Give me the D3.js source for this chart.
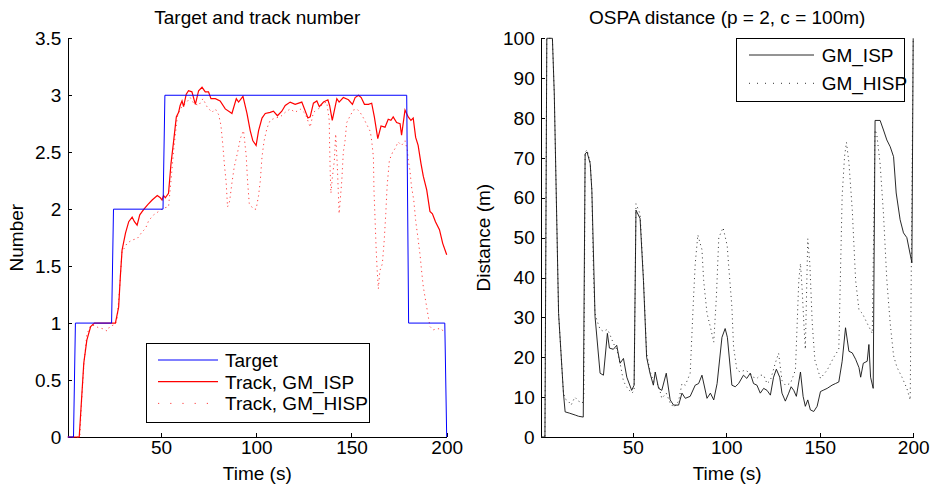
<!DOCTYPE html>
<html>
<head>
<meta charset="utf-8">
<script src="https://cdn.jsdelivr.net/npm/d3@7"></script>
<style>
    body { margin: 0; background: #fff; }
    text { font-family: "Liberation Sans", Arial, Helvetica, sans-serif; }
</style>
</head>
<body>
<div id="chart"></div>
<script>
// tick labels
var timeTicks = [50, 100, 150, 200];
var numberTicks = [0, 0.5, 1, 1.5, 2, 2.5, 3, 3.5];
var distanceTicks = [0, 10, 20, 30, 40, 50, 60, 70, 80, 90, 100];

// left panel: true number of targets
var targetTime = [1, 4, 5, 24, 25, 51, 52, 179, 180, 199, 200];
var targetNumber = [0, 0, 1, 1, 2, 2, 3, 3, 1, 1, 0];

// left panel: estimated track number, GM_ISP
var ispTrackTime = [1, 7, 8, 9.4, 11, 13, 15, 26, 27.7, 28.6, 29.5, 31.3, 33, 34.8, 36, 37.4, 38.8, 41, 43, 45.3, 48, 49.6, 50.5, 51.3, 52.2, 53.9, 55.2, 56.6, 58, 59.2, 60, 61, 61.8, 63.2, 64.4, 66.2, 68, 69.7, 71.5, 73.2, 74.9, 76.2, 78.5, 81, 83.7, 86.3, 87.2, 89.5, 90.7, 93, 95.1, 96.8, 98.2, 99.9, 101.2, 103, 104.7, 107.3, 109, 111.1, 113.4, 115.2, 117.8, 120.4, 123.9, 127.1, 128.3, 130, 131.8, 133.1, 135.3, 137.6, 138.5, 139.9, 142.3, 143.5, 145.7, 148.4, 150.5, 151.9, 153.7, 155.1, 156.8, 158.9, 160.6, 162, 163.8, 165.5, 167.6, 169.3, 170.7, 171.9, 173.7, 175.5, 176.3, 178.1, 179.8, 181.2, 182.4, 183.7, 185, 186.5, 187.7, 189.5, 191.2, 192.5, 194.1, 196.2, 197.9, 200];
var ispTrackNumber = [0, 0, 0.27, 0.65, 0.85, 0.97, 1.0, 1.0, 1.14, 1.41, 1.64, 1.79, 1.89, 1.93, 1.89, 1.86, 1.95, 2.0, 2.04, 2.08, 2.12, 2.1, 2.08, 2.12, 2.1, 2.14, 2.4, 2.6, 2.81, 2.85, 2.91, 2.95, 2.9, 3.01, 3.04, 3.03, 2.92, 3.04, 3.07, 3.03, 3.03, 2.97, 2.97, 2.95, 2.88, 2.85, 2.84, 2.97, 2.94, 2.99, 2.84, 2.69, 2.6, 2.56, 2.69, 2.8, 2.84, 2.85, 2.86, 2.82, 2.86, 2.91, 2.94, 2.92, 2.94, 2.8, 2.81, 2.93, 2.95, 2.9, 2.94, 2.96, 2.91, 2.78, 2.97, 2.94, 2.98, 2.96, 2.92, 2.98, 3.0, 2.98, 2.92, 2.92, 2.93, 2.81, 2.62, 2.73, 2.72, 2.79, 2.78, 2.81, 2.76, 2.75, 2.65, 2.87, 2.81, 2.78, 2.8, 2.63, 2.56, 2.4, 2.29, 2.17, 1.98, 1.96, 1.89, 1.82, 1.7, 1.6];

// left panel: estimated track number, GM_HISP
var hispTrackTime = [1, 7.3, 8.2, 9.5, 11, 13, 15, 17, 19.5, 21.7, 23, 26, 27, 28.2, 29.5, 30.4, 32.1, 34.8, 37.4, 40, 41.8, 43.5, 46.1, 48.7, 51.3, 53.9, 55.2, 56.6, 58.5, 60, 61.8, 63.5, 65.3, 67.1, 69.7, 72, 74.1, 76.7, 78.5, 80.2, 81.4, 82.5, 83.2, 84.2, 84.9, 86, 87.2, 88.4, 90.2, 91.6, 93.3, 94.7, 95.4, 96.3, 98.5, 99.9, 101.2, 102.1, 103, 104.1, 105.6, 107.3, 109.8, 112.6, 115.2, 117.8, 120.4, 123, 125.7, 128.3, 130, 132.6, 135.3, 137, 138.3, 138.5, 138.8, 139.2, 139.9, 141, 141.7, 142.5, 143.5, 144.9, 145.7, 146.6, 147.5, 149.3, 151, 152.8, 154.5, 156.3, 158.1, 159.9, 160.6, 161.5, 161.8, 162.4, 162.9, 163.4, 164.1, 164.9, 166.2, 167.2, 168, 168.7, 169.9, 171.6, 172.8, 174.5, 176.3, 178.1, 179.3, 179.8, 180.7, 181.5, 182.7, 183.7, 184.8, 186, 186.8, 187.7, 188.6, 189.5, 190.3, 191.2, 192.9, 194.7, 197.3, 198.4];
var hispTrackNumber = [0, 0, 0.3, 0.65, 0.9, 0.98, 0.98, 0.96, 0.95, 0.93, 0.97, 0.99, 1.05, 1.3, 1.64, 1.65, 1.7, 1.73, 1.74, 1.8, 1.83, 1.9, 1.95, 1.98, 2.01, 2.02, 2.25, 2.52, 2.81, 2.88, 2.91, 2.94, 2.98, 2.93, 2.91, 2.97, 2.9, 2.85, 2.88, 2.83, 2.74, 2.55, 2.4, 2.23, 2.02, 2.07, 2.23, 2.37, 2.5, 2.62, 2.69, 2.47, 2.25, 2.05, 2.0, 2.0, 2.12, 2.25, 2.46, 2.6, 2.71, 2.78, 2.8, 2.81, 2.85, 2.88, 2.85, 2.88, 2.84, 2.72, 2.85, 2.88, 2.93, 2.94, 2.78, 2.56, 2.34, 2.14, 2.27, 2.43, 2.66, 2.4, 1.96, 2.25, 2.5, 2.6, 2.76, 2.82, 2.87, 2.88, 2.85, 2.8, 2.74, 2.68, 2.6, 2.46, 2.17, 1.9, 1.67, 1.49, 1.3, 1.46, 1.52, 1.73, 1.96, 2.2, 2.43, 2.5, 2.53, 2.59, 2.56, 2.6, 2.52, 2.43, 2.34, 2.2, 2.08, 1.9, 1.76, 1.6, 1.46, 1.32, 1.23, 1.14, 1.06, 0.97, 0.94, 0.95, 0.95, 0.92];

// right panel: OSPA distance, GM_ISP
var ispOspaTime = [1, 3, 4, 7, 8, 10.3, 12.9, 13.8, 16, 19.2, 21, 23.5, 24.5, 25.5, 27.2, 28.1, 29.8, 32.5, 34.3, 36.4, 37.5, 39.6, 41.4, 43.2, 45, 46.8, 49.4, 50.7, 51.7, 53.9, 55.7, 57.4, 59.2, 61, 62, 63.8, 65.5, 67.9, 70, 71.8, 74.5, 76.3, 78.1, 80.7, 83.4, 85.2, 87, 89.7, 91.5, 93.3, 95.1, 97.7, 99.4, 100.6, 103, 104.8, 106.6, 109.2, 111, 112.8, 114.6, 116.4, 118.2, 120, 121.8, 123.6, 125.3, 126.8, 128.6, 129.8, 131.6, 133.4, 134.7, 136.1, 137.5, 139.7, 141.1, 142.3, 143.6, 145, 146.8, 148.6, 150.4, 152.2, 154, 156.6, 158.4, 160.2, 162, 163.8, 165.6, 167.4, 169.2, 171, 171.9, 173.3, 175.4, 176.3, 177.2, 178.6, 179.6, 182.3, 184.1, 185.9, 187.7, 189.5, 190.9, 193, 194.8, 196.6, 197.5, 199.3, 200];
var ispOspa = [0, 0, 100, 100, 86, 31, 11, 6.3, 6, 5.5, 5.2, 5, 71, 71.5, 68.6, 61.9, 30.2, 16, 15.5, 26, 22.3, 22, 23, 18.5, 19.7, 15, 11.7, 13, 56.9, 54.8, 39.3, 20, 16, 13, 16.3, 12.2, 11.7, 16, 9.3, 8, 8, 11, 9.7, 10.2, 13, 13.4, 15.5, 9.7, 11, 9.3, 13.4, 25, 27.2, 25, 13, 12.6, 13.4, 15.5, 14.7, 16, 13.4, 13, 11, 12.2, 11.7, 10.5, 15, 17, 15, 11, 9, 11, 12.6, 11.7, 10.2, 16.3, 10.2, 7.7, 9.3, 6.8, 6.4, 7.7, 11.4, 11.8, 12.2, 13, 13.4, 13.8, 19, 27.4, 21.5, 21.1, 19.5, 17.4, 15, 18.5, 19, 23.2, 15, 12.2, 79.4, 79.4, 77, 74.5, 72.8, 70.3, 61.2, 54.5, 51.2, 50, 47.9, 43.7, 100];

// right panel: OSPA distance, GM_HISP
var hispOspaTime = [1, 3, 4, 7, 8, 10.3, 12.9, 14, 15.5, 17, 19, 21, 23, 23.8, 24.5, 25.5, 27.2, 28.1, 29, 29.8, 31, 32.5, 34.3, 36.4, 37.5, 39.6, 41.4, 43.2, 45, 46.8, 49.4, 50.7, 51.7, 53.9, 55.7, 57.4, 59.2, 61, 63.8, 65.5, 67.9, 70, 72, 74.5, 76.3, 78.1, 80.7, 82.5, 83.4, 84.8, 86, 87, 87.9, 89.7, 91.5, 93.3, 94.7, 96, 98.3, 100.5, 101.2, 103, 103.9, 105.7, 107.5, 110.1, 112.8, 114.6, 116.4, 118.2, 120, 121.8, 123.6, 126.2, 128, 129.8, 131.6, 134.3, 137, 138.8, 139.7, 140.6, 141.5, 142.3, 143.6, 144.7, 146, 147.4, 150.4, 154, 157.5, 160.2, 162, 163.3, 164.3, 165.6, 167.4, 169.2, 171, 172.8, 175.4, 178.1, 179.6, 180.5, 182.3, 184.1, 185.9, 187.7, 189.5, 191.3, 194, 196.6, 198.4, 200];
var hispOspa = [0, 0, 100, 100, 86, 31, 11, 9.5, 9, 8, 10, 9, 8.5, 10, 71.5, 72, 69, 62, 40, 31, 29, 27, 26.5, 27, 26, 23.5, 22, 18.5, 14, 12.5, 11, 11.5, 58.5, 56, 40, 21, 16.5, 14, 13, 9.7, 11, 8.5, 7.4, 9, 13.4, 13, 16, 35, 43.5, 50.7, 48.6, 47, 39.3, 31, 27.6, 23.8, 35, 50, 52.5, 48, 43.5, 32.7, 22.6, 16.8, 16.3, 16.8, 16, 15, 14.7, 15.5, 15.5, 13.4, 14.2, 18.5, 21, 14.2, 13, 13.4, 16.8, 39.3, 43.5, 37, 28.5, 22, 49.7, 43.5, 28.5, 19.3, 14.7, 16.8, 20, 22, 60.5, 70.5, 73.9, 68.9, 57, 39.3, 31.8, 31, 28.5, 26, 77, 76, 68.5, 56, 39.3, 28.5, 20.4, 17.5, 15, 12.2, 9.3, 100];

function main() {

    var width = 930, height = 487;
    var fontSize = "19px";

    var svg = d3.select("#chart")
        .append("svg")
        .attr("width", width)
        .attr("height", height);

    // shared vertical extent of both axes
    var plotTop = 38.3, plotBottom = 437;

    // zip two arrays into points
    function zip(xs, ys) {
        return xs.map(function (t, i) { return [t, ys[i]]; });
    }

    // draw one MATLAB style axes (box off, ticks pointing inward)
    function drawAxes(left, right, yMax, yTicks, title, yLabel, yLabelX) {
        var x = d3.scaleLinear().domain([1, 200]).range([left, right]);
        var y = d3.scaleLinear().domain([0, yMax]).range([plotBottom, plotTop]);

        var gx = svg.append("g")
            .attr("transform", "translate(0," + plotBottom + ")")
            .call(d3.axisBottom(x).tickValues(timeTicks).tickFormat(function (d) { return d; })
                .tickSizeInner(-4).tickSizeOuter(0).tickPadding(4));
        var gy = svg.append("g")
            .attr("transform", "translate(" + left + ",0)")
            .call(d3.axisLeft(y).tickValues(yTicks).tickFormat(function (d) { return d; })
                .tickSizeInner(-4).tickSizeOuter(0).tickPadding(6.5));

        [gx, gy].forEach(function (g) {
            g.selectAll("text").style("font-size", fontSize).attr("fill", "#000")
                .style("font-family", "'Liberation Sans', Arial, sans-serif");
            g.selectAll("line").attr("stroke", "#000");
            g.select(".domain").attr("stroke", "#000");
            g.attr("shape-rendering", "crispEdges");
        });

        // title and axis labels
        svg.append("text")
            .attr("x", (left + right) / 2)
            .attr("y", 23.5)
            .attr("text-anchor", "middle")
            .style("font-size", fontSize)
            .text(title);

        svg.append("text")
            .attr("x", (left + right) / 2)
            .attr("y", 480)
            .attr("text-anchor", "middle")
            .style("font-size", fontSize)
            .text("Time (s)");

        svg.append("text")
            .attr("transform", "translate(" + yLabelX + "," + ((plotTop + plotBottom) / 2) + ") rotate(-90)")
            .attr("text-anchor", "middle")
            .style("font-size", fontSize)
            .text(yLabel);

        return { x: x, y: y };
    }

    function drawLine(ax, points, color, widthPx, dash) {
        var line = d3.line()
            .x(function (d) { return ax.x(d[0]); })
            .y(function (d) { return ax.y(d[1]); });
        svg.append("path")
            .datum(points)
            .attr("d", line)
            .attr("fill", "none")
            .attr("stroke", color)
            .attr("stroke-width", widthPx)
            .attr("stroke-dasharray", dash || null);
    }

    // legend box with one row per entry
    function drawLegend(x0, y0, w, h, rows, sampleX1, sampleX2, textX) {
        var g = svg.append("g");
        g.append("rect")
            .attr("x", x0).attr("y", y0).attr("width", w).attr("height", h)
            .attr("fill", "#fff").attr("stroke", "#000").attr("stroke-width", 1)
            .attr("shape-rendering", "crispEdges");
        rows.forEach(function (r) {
            g.append("line")
                .attr("x1", sampleX1).attr("x2", sampleX2)
                .attr("y1", r.y).attr("y2", r.y)
                .attr("stroke", r.color).attr("stroke-width", r.width)
                .attr("stroke-dasharray", r.dash || null);
            g.append("text")
                .attr("x", textX).attr("y", r.y + 6.8)
                .style("font-size", fontSize)
                .text(r.label);
        });
    }

    // ---- left: target and track number
    var left = drawAxes(67.8, 446.7, 3.5, numberTicks, "Target and track number", "Number", 23);
    drawLine(left, zip(hispTrackTime, hispTrackNumber), "#ff4040", 1, "1.2,3.5");
    drawLine(left, zip(ispTrackTime, ispTrackNumber), "#ff0000", 1.2);
    drawLine(left, zip(targetTime, targetNumber), "#0000ff", 1);

    drawLegend(146, 343.3, 223, 79, [
        { label: "Target", color: "#0000ff", width: 1 },
        { label: "Track, GM_ISP", color: "#ff0000", width: 1.2 },
        { label: "Track, GM_HISP", color: "#ff4040", width: 1, dash: "1.2,11" }
    ].map(function (r, i) { r.y = 360 + i * 21.7; return r; }), 158, 218, 225);

    // ---- right: OSPA distance
    var right = drawAxes(541.2, 913.2, 100, distanceTicks, "OSPA distance (p = 2, c = 100m)", "Distance (m)", 490);
    drawLine(right, zip(hispOspaTime, hispOspa), "#333", 1, "1,3.5");
    drawLine(right, zip(ispOspaTime, ispOspa), "#111", 0.9);

    drawLegend(736, 38.3, 168, 63.4, [
        { label: "GM_ISP", color: "#111", width: 0.9, y: 55 },
        { label: "GM_HISP", color: "#333", width: 1, dash: "1,7", y: 83.3 }
    ], 749, 814, 821.7);
}

window.addEventListener('load', main);
</script>
</body>
</html>
